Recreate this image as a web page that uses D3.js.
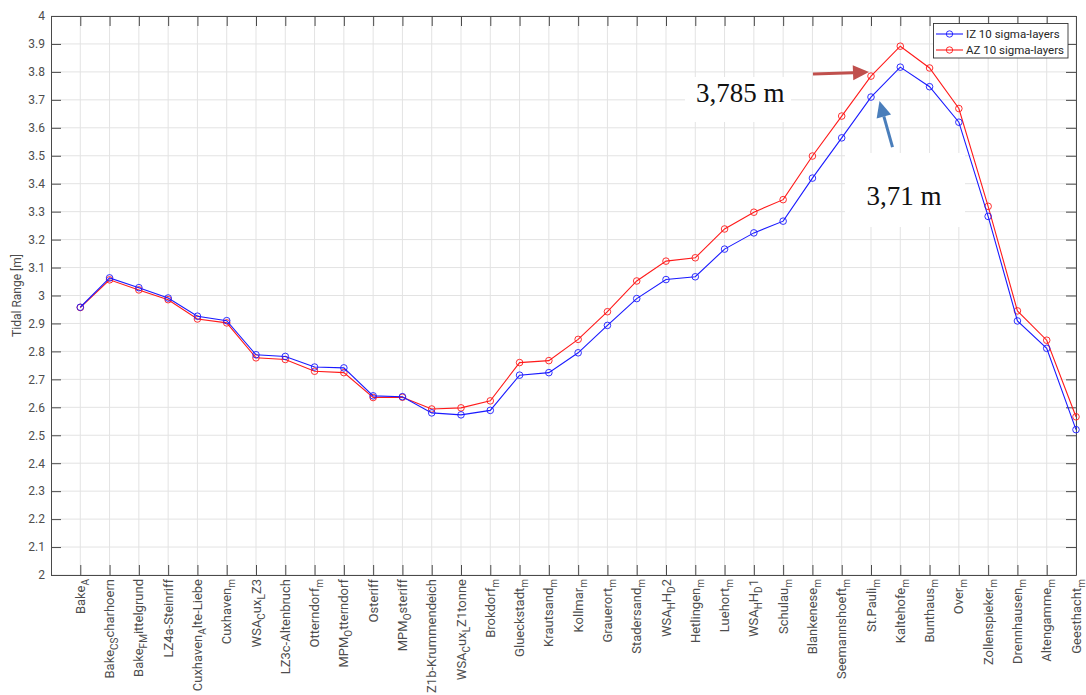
<!DOCTYPE html>
<html>
<head>
<meta charset="utf-8">
<script src="https://cdn.jsdelivr.net/npm/d3@7"></script>
<style>
  body { margin: 0; background: #fff; }
  svg { display: block; font-family: Roboto, "Liberation Sans", sans-serif; }
</style>
</head>
<body>
<svg id="chart" width="1086" height="695"></svg>
<script>
// Gauge stations along the estuary (TeX-like: _{...} marks a subscript)
const stations = [
  "Bake_{A}", "Bake_{CS}charhoern", "Bake_{FM}ittelgrund", "LZ4a-Steinriff",
  "Cuxhaven_{A}lte-Liebe", "Cuxhaven_{m}", "WSA_{C}ux_{L}Z3", "LZ3c-Altenbruch",
  "Otterndorf_{m}", "MPM_{O}tterndorf", "Osteriff", "MPM_{O}steriff",
  "Z1b-Krummendeich", "WSA_{C}ux_{L}Z1tonne", "Brokdorf_{m}", "Glueckstadt_{m}",
  "Krautsand_{m}", "Kollmar_{m}", "Grauerort_{m}", "Stadersand_{m}",
  "WSA_{H}H_{D}2", "Hetlingen_{m}", "Luehort_{m}", "WSA_{H}H_{D}1",
  "Schulau_{m}", "Blankenese_{m}", "Seemannshoeft_{m}", "St.Pauli_{m}",
  "Kaltehofe_{m}", "Bunthaus_{m}", "Over_{m}", "Zollenspieker_{m}",
  "Drennhausen_{m}", "Altengamme_{m}", "Geesthacht_{m}"
];

// Tidal range [m], IZ 10 sigma-layers
const izValues = [
  2.958, 3.063, 3.028, 2.991, 2.926, 2.910, 2.788, 2.782, 2.744, 2.741,
  2.641, 2.638, 2.580, 2.573, 2.589, 2.715, 2.724, 2.795, 2.893, 2.989,
  3.057, 3.067, 3.166, 3.224, 3.266, 3.420, 3.564, 3.710, 3.817, 3.747,
  3.620, 3.283, 2.909, 2.811, 2.520
];

// Tidal range [m], AZ 10 sigma-layers
const azValues = [
  2.957, 3.056, 3.020, 2.985, 2.916, 2.902, 2.777, 2.771, 2.729, 2.724,
  2.635, 2.636, 2.594, 2.598, 2.623, 2.760, 2.767, 2.843, 2.942, 3.052,
  3.123, 3.135, 3.238, 3.298, 3.343, 3.499, 3.642, 3.785, 3.892, 3.814,
  3.669, 3.319, 2.945, 2.840, 2.566
];

const yTickValues = [2, 2.1, 2.2, 2.3, 2.4, 2.5, 2.6, 2.7, 2.8, 2.9, 3,
                     3.1, 3.2, 3.3, 3.4, 3.5, 3.6, 3.7, 3.8, 3.9, 4];

const seriesNames = ["IZ 10 sigma-layers", "AZ 10 sigma-layers"];

// Labelled values called out next to the St. Pauli gauge
const calloutStation = "St.Pauli_{m}";
const calloutLabels = ["3,785 m", "3,71 m"];

// ---------------------------------------------------------------
const svg = d3.select("#chart");
const L = 51, R = 1076, T = 16, B = 575;
const positions = stations.map((_, i) => i + 1);

const x = d3.scaleLinear().domain([0, stations.length]).range([L, R]);
const y = d3.scaleLinear().domain([2, 4]).range([B, T]);

const axisColor = "#4a4a4a";
const gridColor = "#e3e3e3";

// grid
const grid = svg.append("g");
grid.selectAll("line.v").data(positions).join("line")
  .attr("x1", d => x(d)).attr("x2", d => x(d))
  .attr("y1", T).attr("y2", B)
  .attr("stroke", gridColor).attr("stroke-width", 1);
grid.selectAll("line.h").data(yTickValues).join("line")
  .attr("x1", L).attr("x2", R)
  .attr("y1", d => y(d)).attr("y2", d => y(d))
  .attr("stroke", gridColor).attr("stroke-width", 1);

// axes with inward ticks on all four sides
function styleAxis(g) {
  g.selectAll("path").attr("stroke", axisColor);
  g.selectAll("line").attr("stroke", axisColor);
  g.selectAll("text").attr("fill", "#4d4d4d").attr("font-size", 12);
}
svg.append("g").attr("transform", `translate(0,${B})`)
  .call(d3.axisBottom(x).tickValues(positions).tickSize(-10).tickSizeOuter(0).tickFormat(""))
  .call(styleAxis);
svg.append("g").attr("transform", `translate(0,${T})`)
  .call(d3.axisTop(x).tickValues(positions).tickSize(-10).tickSizeOuter(0).tickFormat(""))
  .call(styleAxis);
svg.append("g").attr("transform", `translate(${L},0)`)
  .call(d3.axisLeft(y).tickValues(yTickValues).tickSize(-10).tickSizeOuter(0)
        .tickPadding(6).tickFormat(d => String(+d.toFixed(1))))
  .call(styleAxis)
  .call(g => g.selectAll("text").attr("font-family", "Roboto, sans-serif"));
svg.append("g").attr("transform", `translate(${R},0)`)
  .call(d3.axisRight(y).tickValues(yTickValues).tickSize(-10).tickSizeOuter(0).tickFormat(""))
  .call(styleAxis);

// station labels, rotated, with subscripts
function parseLabel(s) {
  const parts = [];
  const re = /_\{([^}]*)\}/g;
  let last = 0, m;
  while ((m = re.exec(s)) !== null) {
    if (m.index > last) parts.push({ t: s.slice(last, m.index), sub: false });
    parts.push({ t: m[1], sub: true });
    last = re.lastIndex;
  }
  if (last < s.length) parts.push({ t: s.slice(last), sub: false });
  return parts;
}
const labelG = svg.append("g");
stations.forEach((name, i) => {
  const t = labelG.append("text")
    .attr("transform", `translate(${x(i + 1)},${B + 4}) rotate(-90)`)
    .attr("text-anchor", "end")
    .attr("font-size", 13)
    .attr("fill", "#4d4d4d");
  let shift = 0;
  const parts = parseLabel(name);
  parts.forEach((p, k) => {
    const target = p.sub ? 4 : 0;
    t.append("tspan").text(p.t)
      .attr("dy", (k === 0 ? 4.5 : 0) + (target - shift))
      .attr("font-size", p.sub ? 10 : 13);
    shift = target;
  });
});

// y label
svg.append("text")
  .attr("transform", `translate(17,${(T + B) / 2}) rotate(-90)`)
  .attr("text-anchor", "middle")
  .attr("dy", "0.35em")
  .attr("font-size", 12)
  .attr("fill", "#4d4d4d")
  .text("Tidal Range [m]");

// series
const series = [
  { name: seriesNames[1], values: azValues, color: "#ff1a1a" },
  { name: seriesNames[0], values: izValues, color: "#1a1aff" }
];
const line = d3.line().x((d, i) => x(i + 1)).y(d => y(d));
series.forEach(s => {
  svg.append("path").datum(s.values)
    .attr("d", line).attr("fill", "none")
    .attr("stroke", s.color).attr("stroke-width", 1.1);
  svg.append("g").selectAll("circle").data(s.values).join("circle")
    .attr("cx", (d, i) => x(i + 1)).attr("cy", d => y(d)).attr("r", 3.3)
    .attr("fill", "none").attr("stroke", s.color).attr("stroke-width", 0.9);
});

// legend
const leg = svg.append("g");
leg.append("rect").attr("x", 933.5).attr("y", 23.5).attr("width", 134.5).attr("height", 34.5)
  .attr("fill", "#fff").attr("stroke", "#333").attr("stroke-width", 0.9);
[{ n: seriesNames[0], c: "#1a1aff" }, { n: seriesNames[1], c: "#ff1a1a" }].forEach((e, k) => {
  const yy = 34 + k * 16;
  leg.append("line").attr("x1", 936).attr("x2", 963).attr("y1", yy).attr("y2", yy)
    .attr("stroke", e.c).attr("stroke-width", 1.1);
  leg.append("circle").attr("cx", 949.5).attr("cy", yy).attr("r", 3.2)
    .attr("fill", "none").attr("stroke", e.c).attr("stroke-width", 0.9);
  leg.append("text").attr("x", 966).attr("y", yy).attr("dy", "0.36em")
    .attr("font-size", 11.5).attr("fill", "#262626").text(e.n);
});

// callouts for the St. Pauli gauge
const ci = stations.indexOf(calloutStation) + 1;
const cx = x(ci);
const azY = y(azValues[ci - 1]);
const izY = y(izValues[ci - 1]);
const ann = svg.append("g");
const serif = "'Liberation Serif', 'DejaVu Serif', serif";

function arrow(x1, y1, x2, y2, color) {
  const ang = Math.atan2(y2 - y1, x2 - x1);
  const hl = 16, hw = 7.5;
  const bx = x2 - hl * Math.cos(ang), by = y2 - hl * Math.sin(ang);
  ann.append("line").attr("x1", x1).attr("y1", y1).attr("x2", bx).attr("y2", by)
    .attr("stroke", color).attr("stroke-width", 3);
  const px = -Math.sin(ang) * hw, py = Math.cos(ang) * hw;
  ann.append("path")
    .attr("d", `M${x2},${y2}L${bx + px},${by + py}L${bx - px},${by - py}Z`)
    .attr("fill", color);
}

// AZ callout (text box left of the peak, arrow pointing right)
ann.append("rect").attr("x", 685).attr("y", 77).attr("width", 106).attr("height", 45).attr("fill", "#fff");
ann.append("text").attr("x", 696).attr("y", 101.5).attr("font-family", serif)
  .attr("font-size", 27).attr("fill", "#111").text(calloutLabels[0]);
arrow(cx - 58, azY - 2, cx - 2, azY - 4, "#c0504d");

// IZ callout (text box below, arrow pointing up)
ann.append("rect").attr("x", 845).attr("y", 153).attr("width", 120).attr("height", 74).attr("fill", "#fff");
ann.append("text").attr("x", 866.5).attr("y", 205).attr("font-family", serif)
  .attr("font-size", 27).attr("fill", "#111").text(calloutLabels[1]);
arrow(cx + 21.5, izY + 50, cx + 8.5, izY + 4, "#4a7ebb");
</script>
</body>
</html>
